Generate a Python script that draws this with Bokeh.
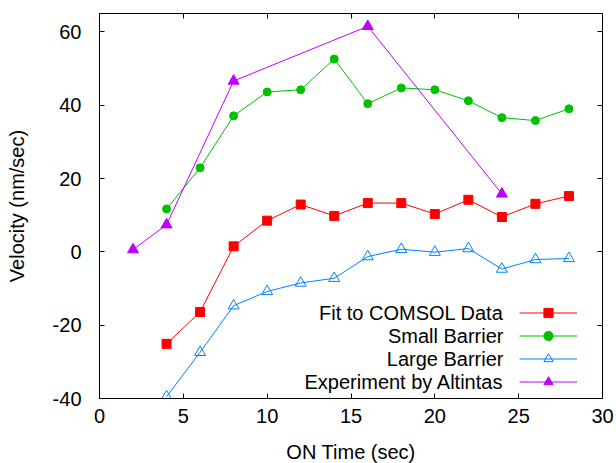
from bokeh.plotting import figure
from bokeh.models import Legend, LegendItem, Label, LinearAxis, FixedTicker, Range1d
from bokeh.embed import file_html
from bokeh.resources import INLINE

# ---- data ----
series_names = ["Fit to COMSOL Data", "Small Barrier", "Large Barrier", "Experiment by Altintas"]

x_fit = [4, 6, 8, 10, 12, 14, 16, 18, 20, 22, 24, 26, 28]
y_fit = [-25.1, -16.4, 1.5, 8.5, 12.9, 9.8, 13.3, 13.3, 10.3, 14.2, 9.5, 13.1, 15.2]

x_small = [4, 6, 8, 10, 12, 14, 16, 18, 20, 22, 24, 26, 28]
y_small = [11.7, 22.9, 37.1, 43.6, 44.2, 52.6, 40.4, 44.7, 44.2, 41.2, 36.6, 35.8, 39.0]

x_large = [4, 6, 8, 10, 12, 14, 16, 18, 20, 22, 24, 26, 28]
y_large = [-39.5, -27.4, -14.7, -10.8, -8.5, -7.2, -1.3, 0.7, -0.1, 0.9, -4.7, -2.1, -1.8]

x_exp = [2, 4, 8, 16, 24]
y_exp = [0.6, 7.4, 46.6, 61.5, 15.8]

x_ticks = [0, 5, 10, 15, 20, 25, 30]
y_ticks = [-40, -20, 0, 20, 40, 60]
y_tick_labels = ["-40", "-20", "0", "20", "40", "60"]

FONT = "Liberation Sans"
FS = "20px"

p = figure(frame_width=503, frame_height=385,
           min_border_left=99, min_border_right=13, min_border_top=13, min_border_bottom=64,
           x_range=Range1d(0, 30), y_range=Range1d(-40, 65),
           output_backend="svg", toolbar_location=None,
           x_axis_label="ON Time (sec)", y_axis_label="Velocity (nm/sec)")

p.grid.visible = False
p.outline_line_color = "black"
p.outline_line_width = 1
p.background_fill_color = "white"
p.border_fill_color = "white"

def style_axis(ax, ticks, show_labels=True, standoff=10):
    ax.ticker = FixedTicker(ticks=ticks)
    ax.axis_line_color = None
    ax.major_tick_in = 5
    ax.major_tick_out = 0
    ax.major_tick_line_color = "black"
    ax.minor_tick_line_color = None
    ax.major_label_text_font = FONT
    ax.major_label_text_font_size = FS
    ax.major_label_text_color = "black"
    ax.major_label_standoff = standoff if show_labels else 0
    if not show_labels:
        ax.major_label_overrides = {t: "" for t in ticks}
    ax.axis_label_text_font = FONT
    ax.axis_label_text_font_size = FS
    ax.axis_label_text_font_style = "normal"
    ax.axis_label_text_color = "black"

style_axis(p.xaxis[0], x_ticks, True, 10)
style_axis(p.yaxis[0], y_ticks, True, 18)
p.yaxis[0].major_label_overrides = {t: s for t, s in zip(y_ticks, y_tick_labels)}
p.xaxis[0].axis_label_standoff = 15
p.yaxis[0].axis_label_standoff = 22

top = LinearAxis()
style_axis(top, x_ticks, False)
p.add_layout(top, "above")
right = LinearAxis()
style_axis(right, y_ticks, False)
p.add_layout(right, "right")

colors = ["#ff0000", "#00c000", "#0080ff", "#c000ff"]

l1 = p.line(x_fit, y_fit, line_color=colors[0], line_width=1)
m1 = p.scatter(x_fit, y_fit, marker="square", size=9, fill_color=colors[0], line_color=colors[0])
l2 = p.line(x_small, y_small, line_color=colors[1], line_width=1)
m2 = p.scatter(x_small, y_small, marker="circle", size=8, fill_color=colors[1], line_color=colors[1])
l3 = p.line(x_large, y_large, line_color=colors[2], line_width=1)
m3 = p.scatter(x_large, y_large, marker="triangle", size=11, fill_color=None, line_color=colors[2], line_width=1)
l4 = p.line(x_exp, y_exp, line_color=colors[3], line_width=1)
m4 = p.scatter(x_exp, y_exp, marker="triangle", size=11, fill_color=colors[3], line_color=colors[3])

renderers = [[l1, m1], [l2, m2], [l3, m3], [l4, m4]]
items = [LegendItem(label=" ", renderers=r) for r in renderers]
legend = Legend(items=items, location=(420, 5), orientation="vertical",
                glyph_width=58, glyph_height=23, spacing=0, padding=0, margin=0,
                label_width=0, label_standoff=0, label_height=23,
                label_text_font=FONT, label_text_font_size=FS,
                border_line_color=None, background_fill_alpha=0)
p.add_layout(legend)

row_h = 23
for i, name in enumerate(series_names):
    p.add_layout(Label(x=404, y=16.5 + (len(series_names) - 1 - i) * row_h,
                       x_units="screen", y_units="screen", text=name,
                       text_align="right", text_baseline="middle",
                       text_font=FONT, text_font_size=FS, text_color="black"))

open("out.html", "w").write(file_html(p, INLINE))
